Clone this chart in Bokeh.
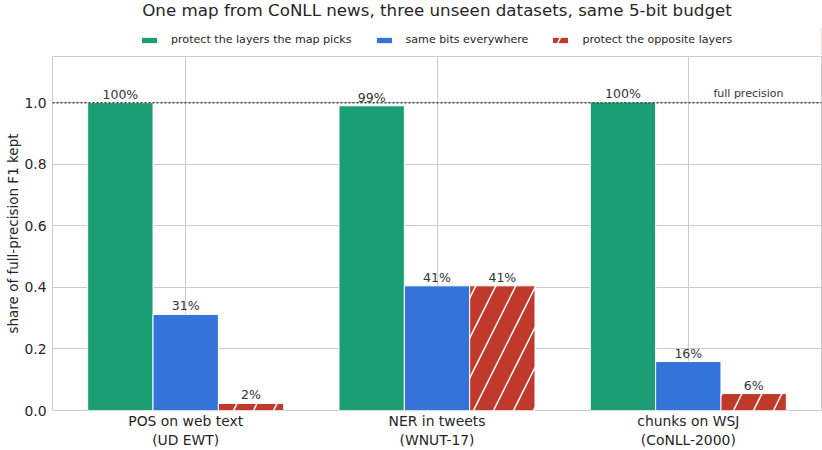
from bokeh.plotting import figure
from bokeh.layouts import column
from bokeh.models import ColumnDataSource, Legend, LegendItem, FixedTicker, Span, Label, Range1d, NumeralTickFormatter
from bokeh.embed import file_html
from bokeh.resources import INLINE
from bokeh.core.properties import value

categories = ["POS on web text\n(UD EWT)", "NER in tweets\n(WNUT-17)", "chunks on WSJ\n(CoNLL-2000)"]
series_names = ["protect the layers the map picks", "same bits everywhere", "protect the opposite layers"]
picks = [1.0, 0.99, 1.002]
uniform = [0.312, 0.405, 0.159]
opposite = [0.023, 0.405, 0.055]
pick_labels = ["100%", "99%", "100%"]
uniform_labels = ["31%", "41%", "16%"]
opposite_labels = ["2%", "41%", "6%"]
y_ticks = [0.0, 0.2, 0.4, 0.6, 0.8, 1.0]
title_text = "One map from CoNLL news, three unseen datasets, same 5-bit budget"

colors = ["#1c9e74", "#3473d9", "#c0392b"]
font = "DejaVu Sans"
hatch_kw = dict(hatch_pattern="/", hatch_color="white", hatch_scale=40, hatch_weight=1.5)

# ---- header figure: title + legend ----
top = figure(width=822, height=55, output_backend="svg", toolbar_location=None,
             x_range=Range1d(0, 1), y_range=Range1d(0, 1),
             min_border_left=52, min_border_right=1, min_border_top=0, min_border_bottom=0)
top.axis.visible = False
top.grid.visible = False
top.outline_line_color = None
top.add_layout(Label(x=0.5, y=46, y_units="screen", text=title_text, text_align="center",
                     text_baseline="middle", text_font=font, text_font_size="16.7px",
                     text_color="#262626"))
dummy = []
for i in range(3):
    kw = hatch_kw if i == 2 else {}
    dummy.append(top.vbar(x=[5], top=[0.5], width=0.1, fill_color=colors[i], line_color="white", **kw))
legend = Legend(items=[LegendItem(label=n, renderers=[r]) for n, r in zip(series_names, dummy)],
                orientation="horizontal", location=(87, 9), border_line_color=None,
                background_fill_alpha=0, label_text_font=font, label_text_font_size="11.1px",
                label_text_color="#262626", glyph_width=20, glyph_height=8, spacing=22,
                padding=0, margin=0, label_standoff=12, label_height=12)
top.add_layout(legend)

# ---- main chart ----
p = figure(width=822, height=395, output_backend="svg", toolbar_location=None,
           x_range=Range1d(-0.53, 2.53), y_range=Range1d(0, 1.15),
           min_border_left=0, min_border_right=1, min_border_top=1, min_border_bottom=0)

xs = list(range(len(categories)))
width = 0.26
offsets = [-0.26, 0.0, 0.26]
all_vals = [picks, uniform, opposite]
all_labels = [pick_labels, uniform_labels, opposite_labels]
for i, (vals, labs) in enumerate(zip(all_vals, all_labels)):
    src = ColumnDataSource(dict(x=[x + offsets[i] for x in xs], top=vals, lab=labs))
    kw = hatch_kw if i == 2 else {}
    p.vbar(x="x", top="top", width=width, source=src, fill_color=colors[i],
           line_color="white", line_width=1, **kw)
    p.text(x="x", y="top", text="lab", source=src, text_align="center", text_baseline="bottom",
           y_offset=-1, text_font=value(font), text_font_size="12.5px", text_color="#333333")

p.add_layout(Span(location=1.0, dimension="width", line_color="#444444", line_dash="2 2", line_width=1.5))
p.add_layout(Label(x=2.1, y=1.0, text="full precision", text_font=font, text_font_size="11px",
                   text_color="#333333", y_offset=3, text_baseline="bottom"))

p.xaxis.ticker = FixedTicker(ticks=xs)
p.xaxis.major_label_overrides = {i: c for i, c in enumerate(categories)}
p.yaxis.ticker = FixedTicker(ticks=y_ticks)
p.yaxis.formatter = NumeralTickFormatter(format="0.0")
p.yaxis.axis_label = "share of full-precision F1 kept"
for ax in [p.xaxis[0], p.yaxis[0]]:
    ax.axis_line_color = None
    ax.major_tick_line_color = None
    ax.minor_tick_line_color = None
    ax.major_tick_out = 0
    ax.major_tick_in = 0
    ax.major_label_text_font = font
    ax.major_label_text_font_size = "13.9px"
    ax.major_label_text_color = "#262626"
    ax.axis_label_text_font = font
    ax.axis_label_text_font_size = "13.5px"
    ax.axis_label_text_font_style = "normal"
    ax.axis_label_text_color = "#262626"
    ax.major_label_standoff = 6
p.xaxis.major_label_standoff = 2
p.yaxis.axis_label_standoff = 0

p.xgrid.grid_line_color = "#cccccc"
p.ygrid.grid_line_color = "#cccccc"
p.outline_line_color = "#cccccc"
p.outline_line_width = 1

layout = column(top, p, spacing=0)
open("out.html", "w").write(file_html(layout, INLINE))
